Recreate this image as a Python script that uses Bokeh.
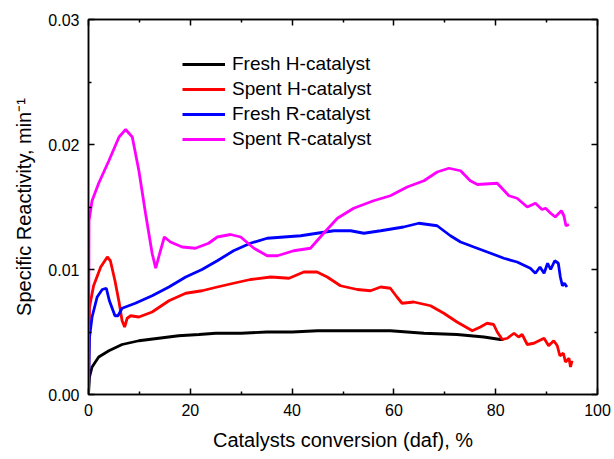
#!/usr/bin/env python3

import bokeh.models as bkm
import bokeh.plotting as bkp
from bokeh.embed import file_html
from bokeh.resources import INLINE

FONT = "Liberation Sans"

# Fresh H-catalyst (black)
fresh_h_x = [0, 0.2, 0.7, 2.0, 4.0, 6.6, 9.9, 13.8, 17.7, 21.7, 25.0, 30, 35, 40, 45, 50,
             55, 59.3, 65.9, 72.4, 77.7, 80.9, 81.5]
fresh_h_y = [0, 0.0014, 0.0022, 0.0030, 0.0035, 0.0040, 0.0043, 0.0045, 0.0047, 0.0048, 0.0049,
             0.0049, 0.0050, 0.0050, 0.0051, 0.0051, 0.0051, 0.0051, 0.0049, 0.0048, 0.0046,
             0.0044, 0.0044]

# Spent H-catalyst (red)
spent_h_x = [0, 0.2, 1.0, 2.4, 3.7, 4.3, 5.2, 6.0, 6.6, 7.1, 7.6, 8.3, 9.9, 12.5, 15.8, 19.1,
             22.3, 25.3, 28.5, 31.8, 35.8, 39.4, 42.3, 44.9, 46.9, 49.5, 52.8, 55.4, 57.4,
             59.3, 60.6, 61.6, 63.9, 67.2, 69.8, 72.4, 75.4, 77.0, 78.3, 79.6, 80.3, 81.3,
             82.3, 83.6, 84.5, 85.2, 86.2, 87.5, 88.5, 89.5, 90.4, 91.4, 92.1, 92.6, 93.3,
             93.7, 94.4, 94.7, 95.0]
spent_h_y = [0, 0.0070, 0.0087, 0.0102, 0.0110, 0.0107, 0.0091, 0.0074, 0.0059, 0.0054, 0.0061,
             0.0063, 0.0062, 0.0066, 0.0075, 0.0081, 0.0083, 0.0086, 0.0089, 0.0092, 0.0094,
             0.0093, 0.0098, 0.0098, 0.0094, 0.0087, 0.0084, 0.0083, 0.0086, 0.0085, 0.0078,
             0.0073, 0.0074, 0.0071, 0.0065, 0.0058, 0.0051, 0.0054, 0.0057, 0.0056, 0.0050,
             0.0044, 0.0045, 0.0049, 0.0046, 0.0048, 0.0040, 0.0041, 0.0043, 0.0045, 0.0039,
             0.0043, 0.0039, 0.0031, 0.0033, 0.0026, 0.0029, 0.0022, 0.0027]

# Fresh R-catalyst (blue)
fresh_r_x = [0, 0.2, 0.7, 1.7, 2.7, 3.5, 4.1, 5.2, 5.8, 6.6, 9.2, 12.5, 15.8, 19.1, 22.3, 25.3,
             28.5, 31.8, 35.1, 38.4, 41.7, 44.9, 48.2, 51.5, 54.1, 57.4, 61.9, 64.9, 68.5,
             71.1, 73.1, 75.7, 79.0, 81.6, 84.2, 86.8, 87.8, 88.7, 89.5, 90.2, 90.8, 91.6,
             92.3, 92.7, 93.1, 93.5, 94.0]
fresh_r_y = [0, 0.0046, 0.0062, 0.0078, 0.0084, 0.0085, 0.0075, 0.0063, 0.0063, 0.0069, 0.0073,
             0.0079, 0.0086, 0.0094, 0.0100, 0.0107, 0.0115, 0.0121, 0.0125, 0.0126, 0.0127,
             0.0129, 0.0131, 0.0131, 0.0129, 0.0131, 0.0134, 0.0137, 0.0135, 0.0127, 0.0122,
             0.0118, 0.0113, 0.0109, 0.0106, 0.0101, 0.0097, 0.0102, 0.0097, 0.0105, 0.0100,
             0.0107, 0.0105, 0.0094, 0.0087, 0.0089, 0.0086]

# Spent R-catalyst (magenta)
spent_r_x = [0, 0.1, 0.7, 2.0, 4.0, 6.0, 7.3, 8.6, 9.9, 11.2, 12.5, 13.2, 14.0, 14.9, 16.1,
             18.4, 21.0, 23.6, 25.3, 27.9, 29.9, 32.5, 35.1, 37.1, 40.3, 43.6, 46.2, 48.9,
             52.1, 56.0, 59.3, 62.6, 65.9, 68.5, 70.8, 73.1, 75.0, 76.4, 80.3, 82.6, 84.2,
             86.2, 87.8, 89.1, 89.8, 90.8, 91.7, 92.9, 93.4, 93.8, 94.4]
spent_r_y = [0, 0.0139, 0.0155, 0.0169, 0.0187, 0.0206, 0.0212, 0.0206, 0.0179, 0.0145, 0.0113,
             0.0101, 0.0113, 0.0126, 0.0122, 0.0118, 0.0117, 0.0121, 0.0126, 0.0128, 0.0126,
             0.0117, 0.0111, 0.0111, 0.0115, 0.0117, 0.0129, 0.0141, 0.0149, 0.0155, 0.0159,
             0.0166, 0.0171, 0.0178, 0.0181, 0.0179, 0.0171, 0.0168, 0.0169, 0.0159, 0.0157,
             0.0150, 0.0153, 0.0148, 0.0149, 0.0145, 0.0142, 0.0147, 0.0143, 0.0135, 0.0136]

series = [
    ("Fresh H-catalyst", fresh_h_x, fresh_h_y, "black"),
    ("Spent H-catalyst", spent_h_x, spent_h_y, "#ff0000"),
    ("Fresh R-catalyst", fresh_r_x, fresh_r_y, "#0000ff"),
    ("Spent R-catalyst", spent_r_x, spent_r_y, "#ff00ff"),
]

x_ticks = [0, 20, 40, 60, 80, 100]
x_minor = [10, 30, 50, 70, 90]
y_ticks = [0.0, 0.01, 0.02, 0.03]
y_minor = [0.005, 0.015, 0.025]


def style_axis(axis, ticks, minor, show_labels):
    axis.ticker = bkm.FixedTicker(ticks=ticks, minor_ticks=minor)
    axis.axis_line_width = 1.5
    axis.axis_line_color = "black"
    axis.major_tick_in = 6
    axis.major_tick_out = 0
    axis.minor_tick_in = 3
    axis.minor_tick_out = 0
    axis.major_tick_line_width = 1.5
    axis.minor_tick_line_width = 1.5
    axis.major_label_text_font = FONT
    axis.major_label_text_color = "black"
    if show_labels:
        axis.major_label_text_font_size = "16px"
        axis.major_label_standoff = 9
    else:
        # mirror axis: ticks only, no labels drawn at all
        axis.major_label_text_font_size = "0px"
        axis.major_label_standoff = 0
        axis.major_label_policy = bkm.CustomLabelingPolicy(code="return []")


p = bkp.figure(
    width=612, height=457,
    x_range=bkm.Range1d(0, 100), y_range=bkm.Range1d(0, 0.03),
    output_backend="svg", toolbar_location=None,
    min_border_left=88, min_border_right=15, min_border_top=19, min_border_bottom=63,
)
p.grid.visible = False
p.outline_line_color = "black"
p.outline_line_width = 1.5

items = []
for label, xs, ys, color in series:
    r = p.line(xs, ys, line_color=color, line_width=2.8)
    items.append((label, [r]))

style_axis(p.xaxis[0], x_ticks, x_minor, True)
style_axis(p.yaxis[0], y_ticks, y_minor, True)
p.yaxis[0].formatter = bkm.PrintfTickFormatter(format="%.2f")

p.xaxis.axis_label = "Catalysts conversion (daf), %"
p.yaxis.axis_label = "Specific Reactivity, min\u207b\u00b9"
for ax in (p.xaxis[0], p.yaxis[0]):
    ax.axis_label_text_font = FONT
    ax.axis_label_text_font_size = "20px"
    ax.axis_label_text_font_style = "normal"
    ax.axis_label_text_color = "black"
    ax.axis_label_standoff = 10

top = bkm.LinearAxis()
style_axis(top, x_ticks, x_minor, False)
p.add_layout(top, "above")
right = bkm.LinearAxis()
style_axis(right, y_ticks, y_minor, False)
p.add_layout(right, "right")

legend = bkm.Legend(
    items=items,
    location=(94, 244),
    border_line_color=None,
    background_fill_alpha=0,
    padding=0, margin=0, spacing=3,
    glyph_width=43, glyph_height=22, label_height=22,
    label_standoff=7,
    label_text_font=FONT, label_text_font_size="19px", label_text_color="black",
)
p.add_layout(legend, "center")

open("out.html", "w").write(file_html(p, INLINE))
